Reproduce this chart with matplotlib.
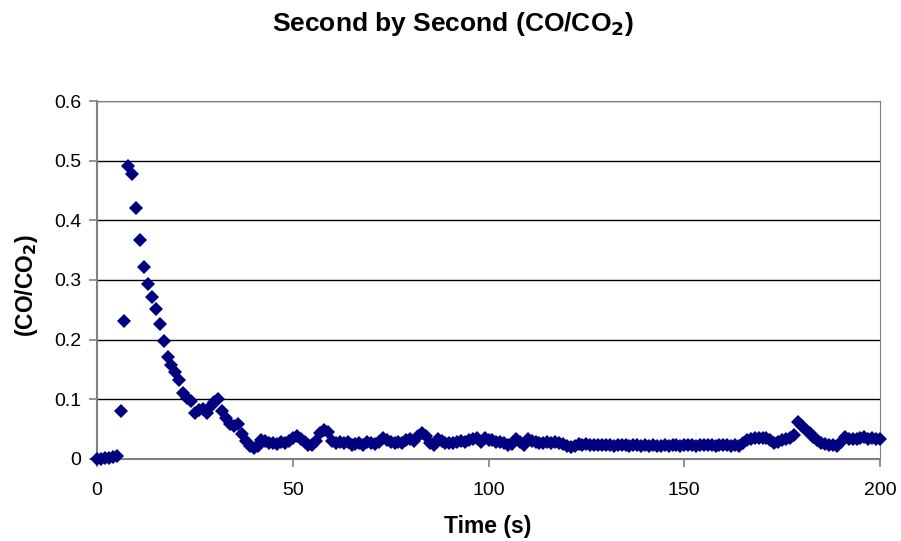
import numpy as np
import matplotlib
matplotlib.use('Agg')
import matplotlib.pyplot as plt

plt.rcParams['font.family'] = ['Liberation Sans', 'DejaVu Sans']

# time in seconds, one reading per second
time_s = list(range(0, 201))

co_ratio = [
    0.000, 0.000, 0.001, 0.002, 0.004, 0.005, 0.081, 0.231, 0.491, 0.477,   # 0-9
    0.421, 0.367, 0.321, 0.293, 0.272, 0.251, 0.226, 0.198, 0.171, 0.158,   # 10-19
    0.145, 0.133, 0.110, 0.103, 0.098, 0.077, 0.082, 0.083, 0.077, 0.088,   # 20-29
    0.096, 0.101, 0.080, 0.068, 0.058, 0.055, 0.058, 0.042, 0.030, 0.022,   # 30-39
    0.018, 0.022, 0.032, 0.030, 0.026, 0.027, 0.025, 0.028, 0.026, 0.030,   # 40-49
    0.036, 0.039, 0.034, 0.028, 0.023, 0.024, 0.030, 0.044, 0.049, 0.046,   # 50-59
    0.030, 0.027, 0.029, 0.027, 0.028, 0.023, 0.025, 0.027, 0.024, 0.028,   # 60-69
    0.027, 0.025, 0.028, 0.035, 0.031, 0.029, 0.027, 0.028, 0.026, 0.032,   # 70-79
    0.034, 0.030, 0.038, 0.043, 0.039, 0.027, 0.024, 0.033, 0.030, 0.027,   # 80-89
    0.026, 0.027, 0.029, 0.030, 0.028, 0.031, 0.034, 0.036, 0.028, 0.035,   # 90-99
    0.032, 0.031, 0.028, 0.029, 0.027, 0.023, 0.025, 0.034, 0.029, 0.024,   # 100-109
    0.034, 0.030, 0.028, 0.027, 0.027, 0.028, 0.026, 0.028, 0.027, 0.025,   # 110-119
    0.022, 0.020, 0.021, 0.025, 0.024, 0.025, 0.024, 0.023, 0.024, 0.023,   # 120-129
    0.024, 0.023, 0.022, 0.023, 0.024, 0.023, 0.022, 0.023, 0.023, 0.022,   # 130-139
    0.023, 0.022, 0.023, 0.022, 0.022, 0.023, 0.022, 0.023, 0.023, 0.022,   # 140-149
    0.023, 0.024, 0.023, 0.022, 0.023, 0.023, 0.024, 0.023, 0.022, 0.023,   # 150-159
    0.024, 0.023, 0.022, 0.023, 0.022, 0.026, 0.031, 0.034, 0.036, 0.035,   # 160-169
    0.036, 0.035, 0.031, 0.027, 0.029, 0.031, 0.033, 0.036, 0.040, 0.062,   # 170-179
    0.055, 0.049, 0.043, 0.037, 0.031, 0.027, 0.025, 0.024, 0.024, 0.022,   # 180-189
    0.029, 0.037, 0.034, 0.033, 0.034, 0.035, 0.037, 0.034, 0.035, 0.033,   # 190-199
    0.034,                                                                  # 200
]

x_ticks = [0, 50, 100, 150, 200]
x_labels = ['0', '50', '100', '150', '200']
y_ticks = [0, 0.1, 0.2, 0.3, 0.4, 0.5, 0.6]
y_labels = ['0', '0.1', '0.2', '0.3', '0.4', '0.5', '0.6']

fig = plt.figure(figsize=(9.01, 5.41), dpi=100)
ax = fig.add_axes([0.1077, 0.1516, 0.8690, 0.6617])

ax.plot(time_s, co_ratio, linestyle='none', marker='D', markersize=7.3,
        color='#000080', markeredgewidth=0, clip_on=False, zorder=3)

ax.set_xlim(0, 200)
ax.set_ylim(0, 0.6)
ax.set_xticks(x_ticks)
ax.set_xticklabels(x_labels)
ax.set_yticks(y_ticks)
ax.set_yticklabels(y_labels)

ax.grid(axis='y', color='black', linewidth=1)
ax.set_axisbelow(True)
for side in ['top', 'right']:
    ax.spines[side].set_color('#808080')
for side in ['left', 'bottom']:
    ax.spines[side].set_color('#808080')
    ax.spines[side].set_linewidth(1.5)

ax.tick_params(direction='out', length=5.5, color='#808080', labelsize=14,
               width=1.2)
ax.tick_params(axis='x', pad=11)
ax.tick_params(axis='y', pad=6)

fig.text(488 / 901, 1 - 527 / 541, 'Time (s)', fontsize=16.5,
         fontweight='bold', ha='center', va='center')
fig.text(26 / 901, 1 - 285 / 541, '(CO/CO$_\\mathbf{2}$)', fontsize=16.5,
         fontweight='bold', ha='center', va='center', rotation=90)
fig.text(453 / 901, 1 - 24 / 541, 'Second by Second (CO/CO$_\\mathbf{2}$)',
         fontsize=19, fontweight='bold', ha='center', va='center')

plt.savefig('out.png', dpi=100)
